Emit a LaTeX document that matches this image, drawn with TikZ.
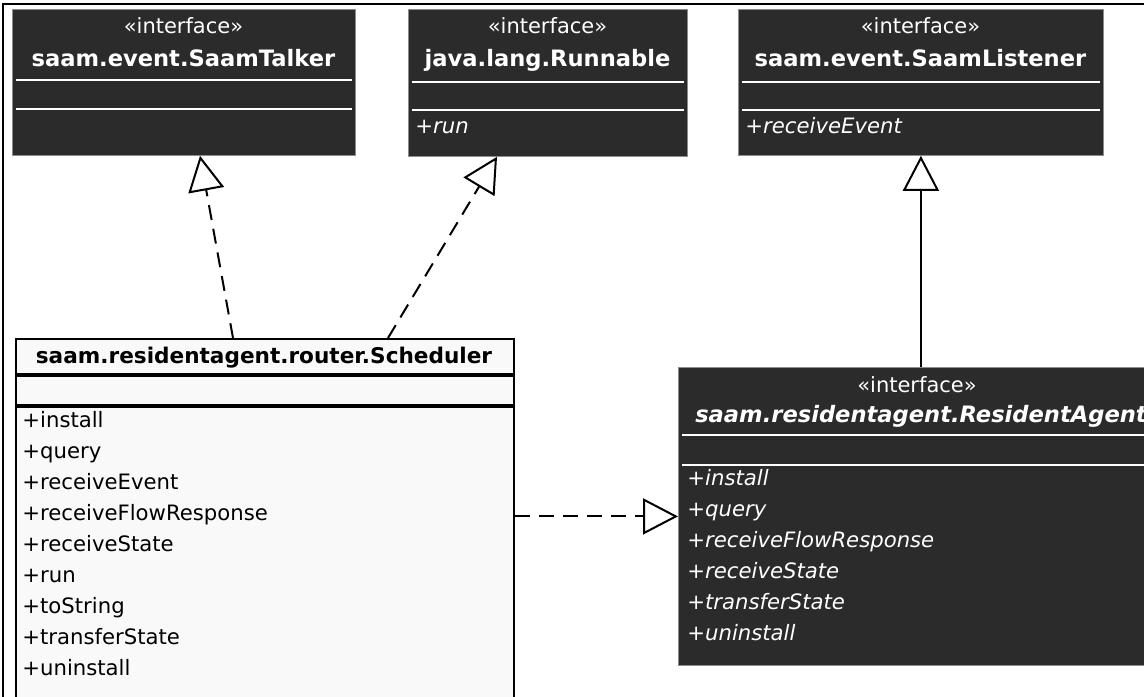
\documentclass[tikz,border=0pt]{standalone}
\usepackage{fontspec}
\setmainfont{DejaVu Sans}
\usetikzlibrary{arrows.meta,positioning,calc}
\definecolor{cI}{HTML}{2b2b2b}
\definecolor{cS}{HTML}{f9f9f9}
\definecolor{cB}{HTML}{8c8c8c}
\tikzset{
  iface/.style={draw=cB,fill=cI,anchor=north west,inner sep=0pt},
  klass/.style={draw=black,line width=1.2pt,fill=cS,anchor=north west,inner sep=0pt},
  stereo/.style={text=white,anchor=base,inner sep=0pt,font=\fontsize{10.5}{12}\selectfont},
  iname/.style={text=white,anchor=base,inner sep=0pt,font=\fontsize{11.3}{13}\selectfont\bfseries},
  cname/.style={anchor=base,inner sep=0pt,font=\fontsize{10.8}{13}\selectfont\bfseries},
  member/.style={anchor=base west,inner sep=0pt,font=\fontsize{10.6}{12}\selectfont},
  imember/.style={member,text=white},
  isep/.style={white,line width=0.9pt},
  csep/.style={black,line width=1.6pt},
  realize/.style={line width=1pt,dash pattern=on 7.5pt off 4.5pt,
    -{Triangle[open,length=17.5pt,width=18pt]}},
  gen/.style={line width=1pt,-{Triangle[open,length=17.5pt,width=18pt]}},
}

\begin{document}
\begin{tikzpicture}[x=0.5pt,y=-0.5pt]
  \useasboundingbox (0,0) rectangle (1144,696);
  \clip (0,0) rectangle (1144,696);
  % frame
  \draw[line width=1pt] (3,4) rectangle (1300,900);
  % interfaces on top
  \node[iface,minimum width=171.5pt,minimum height=73pt] (talker) at (12,9) {};
  \node[iface,minimum width=139.5pt,minimum height=73.5pt] (runnable) at (408,9) {};
  \node[iface,minimum width=182.5pt,minimum height=73pt] (listener) at (738,9) {};
  \foreach \n/\a/\b in {talker/35.5/50,runnable/36.5/50.5,listener/36.5/50.5}{
    \draw[isep] ([shift={(2pt,-\a pt)}]\n.north west) -- ([shift={(-2pt,-\a pt)}]\n.north east);
    \draw[isep] ([shift={(2pt,-\b pt)}]\n.north west) -- ([shift={(-2pt,-\b pt)}]\n.north east);
  }
  \node[stereo] (talkerst) at (183.5,33) {«interface»};
  \node[iname] (talkernm) at (183.5,66) {saam.event.SaamTalker};
  \node[stereo] (runnablest) at (547.5,33) {«interface»};
  \node[iname] (runnablenm) at (547.5,66) {java.lang.Runnable};
  \node[imember,font=\fontsize{10.6}{12}\selectfont\itshape] (runnablem0) at (415,133) {+run};
  \node[stereo] (listenerst) at (920.5,33) {«interface»};
  \node[iname] (listenernm) at (920.5,66) {saam.event.SaamListener};
  \node[imember,font=\fontsize{10.6}{12}\selectfont\itshape] (listenerm0) at (745,133) {+receiveEvent};
  % the scheduler class
  \node[klass,minimum width=249pt,minimum height=200pt] (sched) at (15,338) {};
  \draw[csep] ([yshift=-18.5pt]sched.north west) -- ([yshift=-18.5pt]sched.north east);
  \draw[csep] ([yshift=-34pt]sched.north west) -- ([yshift=-34pt]sched.north east);
  \node[cname] (schednm) at (264,363) {saam.residentagent.router.Scheduler};
  \foreach \m [count=\i from 0] in {install,query,receiveEvent,receiveFlowResponse,
      receiveState,run,toString,transferState,uninstall}
    \node[member] (schedm\i) at (22,427+31*\i) {+\m};
  % the resident agent interface
  \node[iface,minimum width=239pt,minimum height=149pt] (agent) at (678,367) {};
  \draw[isep] ([shift={(2pt,-34pt)}]agent.north west) -- ([shift={(-2pt,-34pt)}]agent.north east);
  \draw[isep] ([shift={(2pt,-49pt)}]agent.north west) -- ([shift={(-2pt,-49pt)}]agent.north east);
  \node[stereo] (agentst) at (917,392) {«interface»};
  \node[iname,font=\fontsize{11.3}{13}\selectfont\bfseries\itshape] (agentnm) at (921,422)
    {saam.residentagent.ResidentAgent};
  \foreach \m [count=\i from 0] in {install,query,receiveFlowResponse,receiveState,
      transferState,uninstall}
    \node[imember,font=\fontsize{10.6}{12}\selectfont\itshape] (agentm\i) at (687,485+31*\i) {+\m};
  % arrows
  \draw[realize] ([xshift=109pt]sched.north west) -- ([xshift=94pt]talker.south west);
  \draw[realize] ([xshift=186.5pt]sched.north west) -- ([xshift=44.5pt]runnable.south west);
  \draw[gen] (agent.north -| listener.south) -- (listener.south);
  \draw[realize] (sched.east |- agent.west) -- (agent.west);
\end{tikzpicture}
\end{document}
